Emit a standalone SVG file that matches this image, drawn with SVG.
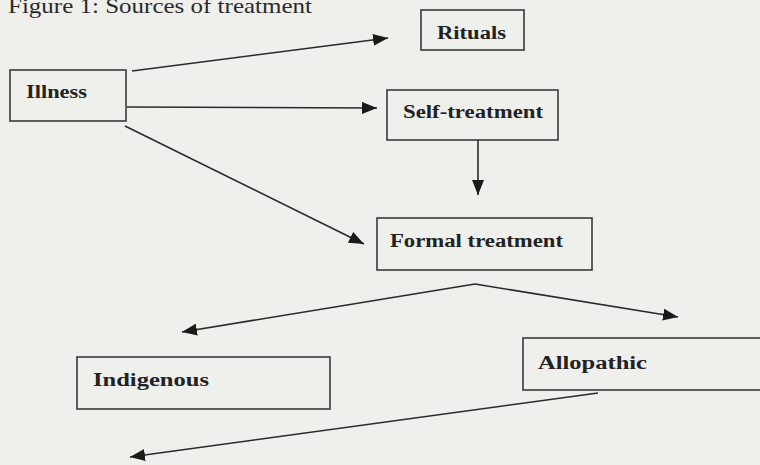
<svg xmlns="http://www.w3.org/2000/svg" width="760" height="465" viewBox="0 0 760 465">
  <style>
    .box { fill: none; stroke: #3a3a3a; stroke-width: 1.6; }
    .lbl { font-family: "Liberation Serif", "Times New Roman", serif; font-weight: bold; font-size: 18px; fill: #222; }
    .title { font-family: "Liberation Serif", "Times New Roman", serif; font-size: 22px; fill: #2a2a2a; }
    .edge { fill: none; stroke: #2a2a2a; stroke-width: 1.6; }
  </style>
  <defs>
    <marker id="head" markerUnits="userSpaceOnUse" markerWidth="16" markerHeight="12" refX="15" refY="6" orient="auto">
      <path d="M0,0 L15,6 L0,12 Z" fill="#1a1a1a"/>
    </marker>
  </defs>
  <rect x="0" y="0" width="760" height="465" fill="#efefec"/>

  <text class="title" x="8" y="13" textLength="304" lengthAdjust="spacingAndGlyphs">Figure 1: Sources of treatment</text>

  <g id="connectors">
    <line class="edge" x1="132" y1="71" x2="388" y2="38" marker-end="url(#head)"/>
    <line class="edge" x1="127" y1="107" x2="377" y2="108" marker-end="url(#head)"/>
    <line class="edge" x1="125" y1="126" x2="364" y2="244" marker-end="url(#head)"/>
    <line class="edge" x1="478" y1="140" x2="478" y2="195" marker-end="url(#head)"/>
    <line class="edge" x1="475" y1="284" x2="182" y2="332" marker-end="url(#head)"/>
    <line class="edge" x1="475" y1="284" x2="678" y2="317" marker-end="url(#head)"/>
    <line class="edge" x1="598" y1="393" x2="130" y2="457" marker-end="url(#head)"/>
  </g>

  <g id="illness">
    <rect class="box" x="10" y="70" width="116" height="51"/>
    <text class="lbl" x="26" y="98" textLength="61" lengthAdjust="spacingAndGlyphs">Illness</text>
  </g>
  <g id="rituals">
    <rect class="box" x="421" y="10" width="103" height="40"/>
    <text class="lbl" x="437" y="39" textLength="69" lengthAdjust="spacingAndGlyphs">Rituals</text>
  </g>
  <g id="self-treatment">
    <rect class="box" x="387" y="90" width="171" height="50"/>
    <text class="lbl" x="403" y="118" textLength="140" lengthAdjust="spacingAndGlyphs">Self-treatment</text>
  </g>
  <g id="formal-treatment">
    <rect class="box" x="377" y="218" width="215" height="52"/>
    <text class="lbl" x="390" y="247" textLength="173" lengthAdjust="spacingAndGlyphs">Formal treatment</text>
  </g>
  <g id="indigenous">
    <rect class="box" x="77" y="357" width="253" height="52"/>
    <text class="lbl" x="93" y="386" textLength="116" lengthAdjust="spacingAndGlyphs">Indigenous</text>
  </g>
  <g id="allopathic">
    <rect class="box" x="523" y="338" width="260" height="52"/>
    <text class="lbl" x="538" y="369" textLength="109" lengthAdjust="spacingAndGlyphs">Allopathic</text>
  </g>
</svg>
